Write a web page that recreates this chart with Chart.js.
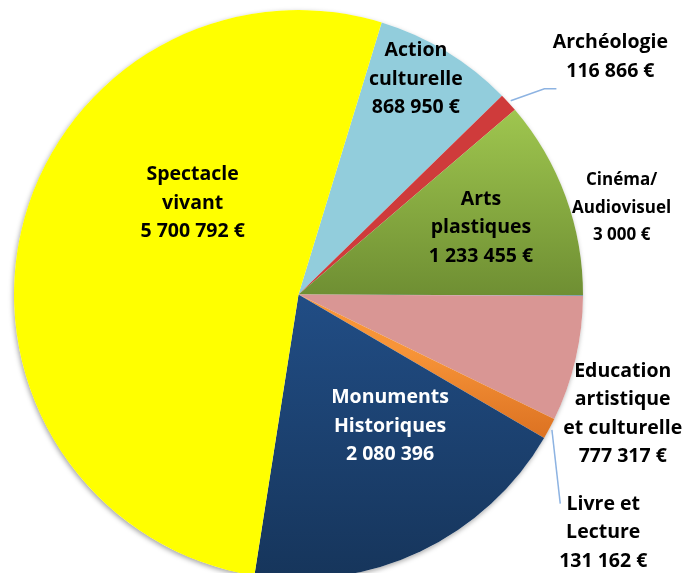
<!DOCTYPE html>
<html>
<head>
<meta charset="utf-8">
<script src="https://cdn.jsdelivr.net/npm/chart.js@4"></script>
<style>
  body { margin: 0; overflow: hidden; background: #fff; }
  #wrap { position: relative; width: 683px; height: 589px; }
</style>
</head>
<body>
<div id="wrap"><canvas id="myChart"></canvas></div>
<script>
const categories = ["Action culturelle", "Archéologie", "Arts plastiques", "Cinéma/Audiovisuel",
  "Education artistique et culturelle", "Livre et Lecture", "Monuments Historiques", "Spectacle vivant"];
const amounts = [868950, 116866, 1233455, 3000, 777317, 131162, 2080396, 5700792];
const labelLines = [
  ["Action", "culturelle", "868 950 €"],
  ["Archéologie", "116 866 €"],
  ["Arts", "plastiques", "1 233 455 €"],
  ["Cinéma/", "Audiovisuel", "3 000 €"],
  ["Education", "artistique", "et culturelle", "777 317 €"],
  ["Livre et", "Lecture", "131 162 €"],
  ["Monuments", "Historiques", "2 080 396"],
  ["Spectacle", "vivant", "5 700 792 €"],
];

// label placement: radius factor from arc mid angle, then pixel nudge
const labelPlace = [
  { f: 0.861, dx: -10, dy: -6 },
  { f: 1.38, dx: 22, dy: 27 },
  { f: 0.683, dx: 0, dy: 0 },
  { f: 1.178, dx: -12, dy: -88 },
  { f: 1.228, dx: -16, dy: 40 },
  { f: 1.358, dx: -36, dy: 56 },
  { f: 0.562, dx: 23, dy: -13 },
  { f: 0.49, dx: 30, dy: -60 },
];
const labelColor = ["#000", "#000", "#000", "#000", "#000", "#000", "#fff", "#000"];
const labelSize = [19.5, 19.5, 19.5, 17, 19.5, 19.5, 19.5, 19.5];

function sliceColor(context) {
  const i = context.dataIndex;
  const area = context.chart.chartArea;
  const flat = ["#92cddc", "#cf3b3b", "#8fb443", "#4f81bd", "#d99694", "#e77d26", "#1d4477", "#ffff00"];
  if (!area) return flat[i];
  const c = context.chart.ctx;
  const cy = (area.top + area.bottom) / 2;
  const r = (area.bottom - area.top) / 2;
  if (i === 2) {
    const g = c.createLinearGradient(0, area.top + r * 0.35, 0, cy);
    g.addColorStop(0, "#9fc64f");
    g.addColorStop(1, "#6f8f33");
    return g;
  }
  if (i === 6) {
    const g = c.createLinearGradient(0, cy, 0, area.bottom);
    g.addColorStop(0, "#214d85");
    g.addColorStop(1, "#16355b");
    return g;
  }
  if (i === 5) {
    const g = c.createLinearGradient(0, cy + r * 0.2, 0, cy + r * 0.5);
    g.addColorStop(0, "#f79438");
    g.addColorStop(1, "#dc7222");
    return g;
  }
  return flat[i];
}

const pieShadow = {
  id: "pieShadow",
  beforeDatasetsDraw(chart) {
    const arc = chart.getDatasetMeta(0).data[0];
    const c = chart.ctx;
    c.save();
    c.shadowColor = "rgba(0,0,0,0.35)";
    c.shadowBlur = 5;
    c.shadowOffsetX = -1;
    c.shadowOffsetY = 2;
    c.fillStyle = "#fff";
    c.beginPath();
    c.arc(arc.x, arc.y, arc.outerRadius, 0, Math.PI * 2);
    c.fill();
    c.restore();
  },
};

const sliceLabels = {
  id: "sliceLabels",
  afterDatasetsDraw(chart) {
    const c = chart.ctx;
    const arcs = chart.getDatasetMeta(0).data;
    const pos = arcs.map((arc, i) => {
      const mid = (arc.startAngle + arc.endAngle) / 2;
      const p = labelPlace[i];
      return {
        x: arc.x + Math.cos(mid) * arc.outerRadius * p.f + p.dx,
        y: arc.y + Math.sin(mid) * arc.outerRadius * p.f + p.dy,
      };
    });

    // leader lines for the two thin slices
    c.save();
    c.strokeStyle = "#8db3e2";
    c.lineWidth = 1.5;
    [[1, [[-66, 32], [-54, 32]]], [5, [[-43, -29]]]].forEach(([i, pts]) => {
      const arc = arcs[i];
      const mid = (arc.startAngle + arc.endAngle) / 2;
      c.beginPath();
      c.moveTo(arc.x + Math.cos(mid) * arc.outerRadius * 1.01, arc.y + Math.sin(mid) * arc.outerRadius * 1.01);
      pts.forEach(([dx, dy]) => c.lineTo(pos[i].x + dx, pos[i].y + dy));
      c.stroke();
    });
    c.restore();

    c.save();
    c.textAlign = "center";
    c.textBaseline = "middle";
    labelLines.forEach((lines, i) => {
      const size = labelSize[i];
      const lh = i === 3 ? 27.5 : 28.5;
      c.font = "bold " + size + "px 'Open Sans', Lato, sans-serif";
      c.fillStyle = labelColor[i];
      const y0 = pos[i].y - ((lines.length - 1) * lh) / 2;
      lines.forEach((t, k) => c.fillText(t, pos[i].x, y0 + k * lh));
    });
    c.restore();
  },
};

new Chart(document.getElementById("myChart"), {
  type: "pie",
  data: {
    labels: categories,
    datasets: [
      {
        data: amounts,
        backgroundColor: sliceColor,
        borderWidth: 0,
        hoverOffset: 0,
      },
    ],
  },
  options: {
    responsive: true,
    maintainAspectRatio: false,
    animation: false,
    events: [],
    rotation: 17,
    layout: { padding: { left: 14, right: 100, top: 10, bottom: 10 } },
    plugins: {
      legend: { display: false },
      tooltip: { enabled: false },
    },
  },
  plugins: [pieShadow, sliceLabels],
});
</script>
</body>
</html>
